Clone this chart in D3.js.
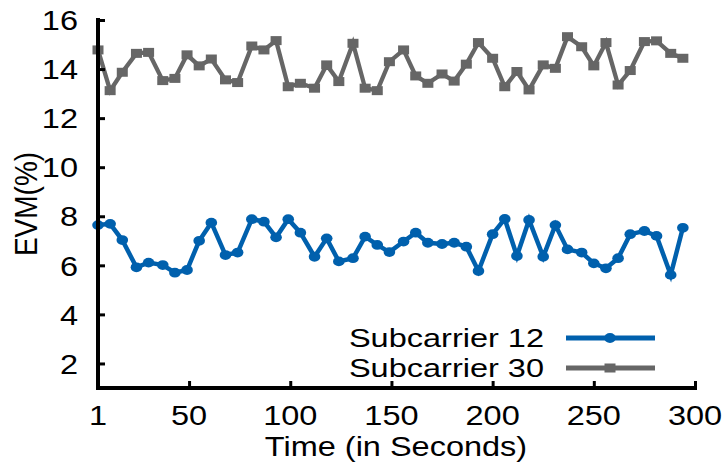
<!DOCTYPE html>
<html>
<head>
<meta charset="utf-8">
<script src="https://cdn.jsdelivr.net/npm/d3@7/dist/d3.min.js"></script>
<style>
  html, body { margin: 0; padding: 0; background: #fff; }
  svg text { font-family: "Liberation Sans", Arial, Helvetica, sans-serif; fill: #000; }
</style>
</head>
<body>
<svg id="chart" width="725" height="466"></svg>
<script>
// Sampling instants (seconds)
const times = [5, 11, 17, 24, 30, 37, 43, 49, 55, 61, 68, 74, 81, 87, 93, 99, 105, 112, 118, 124,
  131, 137, 143, 149, 156, 162, 168, 175, 181, 187, 193, 200, 206, 212, 218, 225, 231, 237,
  244, 250, 256, 262, 268, 275, 281, 288, 294];

// EVM (%) per subcarrier
const evmSub12 = [7.64, 7.69, 7.03, 5.92, 6.11, 6.01, 5.70, 5.81, 7.00, 7.74,
  6.42, 6.52, 7.88, 7.78, 7.14, 7.88, 7.33, 6.35, 7.10, 6.16,
  6.29, 7.17, 6.83, 6.54, 6.97, 7.33, 6.92, 6.87, 6.92, 6.76,
  5.77, 7.27, 7.89, 6.38, 7.85, 6.35, 7.64, 6.65, 6.52, 6.08,
  5.88, 6.29, 7.27, 7.40, 7.20, 5.61, 7.53];
const evmSub30 = [14.78, 13.12, 13.87, 14.64, 14.68, 13.53, 13.62, 14.58, 14.13, 14.41,
  13.56, 13.45, 14.94, 14.78, 15.16, 13.28, 13.42, 13.22, 14.17, 13.49,
  15.05, 13.22, 13.12, 14.30, 14.78, 13.72, 13.42, 13.80, 13.51, 14.20,
  15.08, 14.44, 13.28, 13.90, 13.15, 14.17, 14.03, 15.32, 14.91, 14.13,
  15.08, 13.35, 13.94, 15.12, 15.15, 14.64, 14.44];

const seriesNames = ["Subcarrier 12", "Subcarrier 30"];
const seriesColors = ["#0060ad", "#666666"];

// Axis ticks
const xTickValues = [5, 50, 100, 150, 200, 250, 300];
const xTickLabels = ["1", "50", "100", "150", "200", "250", "300"];
const yTickValues = [2, 4, 6, 8, 10, 12, 14, 16];

const xTitle = "Time (in Seconds)";
const yTitle = "EVM(%)";

const svg = d3.select("#chart");
const FS = 28.5;    // font size
const SX = 1.14;    // horizontal glyph stretch

const x = d3.scaleLinear().domain([5, 300]).range([98, 695]);
const y = d3.scaleLinear().domain([1, 16]).range([388, 20]);

function label(g, tx, ty, text, anchor, size, sx) {
  return g.append("text")
    .attr("transform", `translate(${tx},${ty}) scale(${sx || SX},1)`)
    .attr("text-anchor", anchor)
    .style("font-size", (size || FS) + "px")
    .text(text);
}

// Series
const sets = [evmSub12, evmSub30];
const line = d3.line().x((d, i) => x(times[i])).y(d => y(d));

sets.forEach((vals, k) => {
  const g = svg.append("g");
  g.append("path")
    .datum(vals)
    .attr("d", line)
    .attr("fill", "none")
    .attr("stroke", seriesColors[k])
    .attr("stroke-width", k === 0 ? 4.5 : 4.3)
    .attr("stroke-linejoin", "miter");
  if (k === 0) {
    g.selectAll("ellipse").data(vals).join("ellipse")
      .attr("cx", (d, i) => x(times[i]))
      .attr("cy", d => y(d))
      .attr("rx", 5.8).attr("ry", 4.9)
      .attr("fill", seriesColors[k]);
  } else {
    g.selectAll("rect").data(vals).join("rect")
      .attr("x", (d, i) => x(times[i]) - 5.5)
      .attr("y", d => y(d) - 4.5)
      .attr("width", 11).attr("height", 9)
      .attr("fill", seriesColors[k]);
  }
});

// Axes (left and bottom, ticks pointing inward)
const axisG = svg.append("g");
const xAxis = d3.axisTop(x).tickValues(xTickValues).tickSize(7).tickFormat("");
const yAxis = d3.axisRight(y).tickValues(yTickValues).tickSize(7).tickFormat("");

const xa = axisG.append("g").attr("transform", `translate(0,${y(1)})`).call(xAxis);
const ya = axisG.append("g").attr("transform", `translate(${x(5)},0)`).call(yAxis);
[xa, ya].forEach(a => {
  a.select(".domain").remove();
  a.selectAll(".tick line").attr("stroke", "#000").attr("stroke-width", 3);
});
axisG.append("path")
  .attr("d", `M${x(5)},${y(16)}V${y(1)}H${x(300)}`)
  .attr("fill", "none").attr("stroke", "#000").attr("stroke-width", 4)
  .attr("stroke-linecap", "square");

// Tick labels
xTickValues.forEach((v, i) => label(svg, x(v), 425, xTickLabels[i], "middle"));
yTickValues.forEach(v => label(svg, 78, y(v) + 10.2, String(v), "end"));

// Axis titles
label(svg, 396, 456, xTitle, "middle");
svg.append("text")
  .attr("transform", `translate(37,${204}) scale(${SX},1) rotate(-90)`)
  .attr("text-anchor", "middle")
  .style("font-size", "28px")
  .text(yTitle);

// Legend
const legendRows = [338, 368];
seriesNames.forEach((name, k) => {
  const ly = legendRows[k];
  label(svg, 544, ly + 9, name, "end", 26, 1.25);
  svg.append("line")
    .attr("x1", 566).attr("x2", 655).attr("y1", ly).attr("y2", ly)
    .attr("stroke", seriesColors[k]).attr("stroke-width", 5);
  if (k === 0) {
    svg.append("ellipse").attr("cx", 610).attr("cy", ly)
      .attr("rx", 5.8).attr("ry", 4.9).attr("fill", seriesColors[k]);
  } else {
    svg.append("rect").attr("x", 604.5).attr("y", ly - 4.5)
      .attr("width", 11).attr("height", 9).attr("fill", seriesColors[k]);
  }
});
</script>
</body>
</html>
